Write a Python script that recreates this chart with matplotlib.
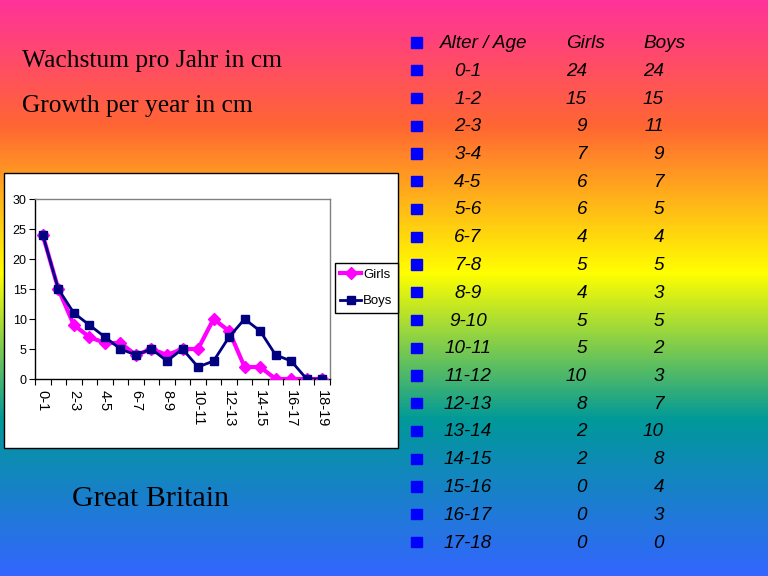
import numpy as np
import matplotlib
matplotlib.use("Agg")
import matplotlib.pyplot as plt
from matplotlib.patches import Rectangle
from matplotlib.colors import LinearSegmentedColormap

# ---- data ----
ages = ["0-1", "1-2", "2-3", "3-4", "4-5", "5-6", "6-7", "7-8", "8-9", "9-10",
        "10-11", "11-12", "12-13", "13-14", "14-15", "15-16", "16-17", "17-18", "18-19"]
girls = [24, 15, 9, 7, 6, 6, 4, 5, 4, 5, 5, 10, 8, 2, 2, 0, 0, 0, 0]
boys = [24, 15, 11, 9, 7, 5, 4, 5, 3, 5, 2, 3, 7, 10, 8, 4, 3, 0, 0]
table_rows = 18  # table lists 0-1 .. 17-18
yticks = [0, 5, 10, 15, 20, 25, 30]

W, H = 768, 576
fig = plt.figure(figsize=(W / 100, H / 100), dpi=100)

# ---- gradient background ----
bg = fig.add_axes([0, 0, 1, 1])
stops = [(0.0, (255, 51, 153)), (125 / 576, (255, 102, 51)), (273 / 576, (255, 255, 0)),
         (420 / 576, (0, 153, 153)), (1.0, (51, 102, 255))]
cmap = LinearSegmentedColormap.from_list("bg", [(p, tuple(c / 255 for c in col)) for p, col in stops])
grad = np.linspace(0, 1, 576).reshape(-1, 1)
bg.imshow(grad, aspect="auto", cmap=cmap, extent=[0, W, H, 0])
bg.set_xlim(0, W)
bg.set_ylim(H, 0)
bg.axis("off")

# ---- left texts ----
serif = ["Liberation Serif", "DejaVu Serif"]
bg.text(22, 67, "Wachstum pro Jahr in cm", family=serif, fontsize=18.4, va="baseline", ha="left")
bg.text(22, 112, "Growth per year in cm", family=serif, fontsize=18.4, va="baseline", ha="left")
bg.text(151, 506.5, "Great Britain", family=serif, fontsize=21.5, va="baseline", ha="center")

# ---- table ----
sans = ["Liberation Sans", "DejaVu Sans"]
fs = 13.6
base0, row_dy = 48, 27.75
bg.text(440, base0, "Alter / Age", family=sans, style="italic", fontsize=fs, va="baseline", ha="left")
bg.text(566, base0, "Girls", family=sans, style="italic", fontsize=fs, va="baseline", ha="left")
bg.text(643, base0, "Boys", family=sans, style="italic", fontsize=fs, va="baseline", ha="left")
bg.add_patch(Rectangle((411, 37.3), 10.5, 10.4, color="#0000FF"))
for i in range(table_rows):
    yb = base0 + (i + 1) * row_dy
    bg.add_patch(Rectangle((411, 37.3 + (i + 1) * row_dy), 10.5, 10.4, color="#0000FF"))
    bg.text(468, yb, ages[i], family=sans, style="italic", fontsize=fs, va="baseline", ha="center")
    bg.text(587, yb, str(girls[i]), family=sans, style="italic", fontsize=fs, va="baseline", ha="right")
    bg.text(664, yb, str(boys[i]), family=sans, style="italic", fontsize=fs, va="baseline", ha="right")

# ---- chart box ----
bg.add_patch(Rectangle((3.5, 172.5), 394, 275, facecolor="white", edgecolor="black", lw=1, zorder=2))

ax = fig.add_axes([35 / W, (H - 379) / H, (330 - 35) / W, (379 - 199) / H])
ax.set_facecolor("white")
x = np.arange(len(ages))
ax.plot(x, girls, color="#FF00FF", lw=3, marker="D", ms=6.5, label="Girls", zorder=3)
ax.plot(x, boys, color="#000080", lw=2, marker="s", ms=5.5, label="Boys", zorder=4)
ax.set_xlim(-0.5, len(ages) - 0.5)
ax.set_ylim(0, 30)
ax.set_yticks(yticks)
ax.set_yticklabels([str(v) for v in yticks], family=sans, fontsize=9)
ax.set_xticks(x[::2])
ax.set_xticklabels(ages[::2], family=sans, fontsize=10.5, rotation=-90)
ax.set_xticks(np.arange(-0.5, len(ages)), minor=True)
ax.tick_params(axis="x", which="major", length=0, pad=8)
ax.tick_params(axis="x", which="minor", length=4, direction="out", width=0.8)
ax.tick_params(axis="y", length=4, direction="out", width=0.8, pad=2)
for s in ["top", "right"]:
    ax.spines[s].set_color("#808080")
    ax.spines[s].set_linewidth(1)
for s in ["left", "bottom"]:
    ax.spines[s].set_color("black")
    ax.spines[s].set_linewidth(1)

leg = ax.legend(loc="center", bbox_to_anchor=((339 + 394) / 2 / W, 1 - (263 + 313) / 2 / H),
                bbox_transform=fig.transFigure, prop={"family": sans, "size": 9.5},
                frameon=True, fancybox=False, edgecolor="black", framealpha=1,
                handlelength=1.6, handletextpad=0.15, borderpad=0.4, labelspacing=1.1,
                borderaxespad=0)
leg.get_frame().set_linewidth(1)

fig.savefig("out.png", dpi=100)
